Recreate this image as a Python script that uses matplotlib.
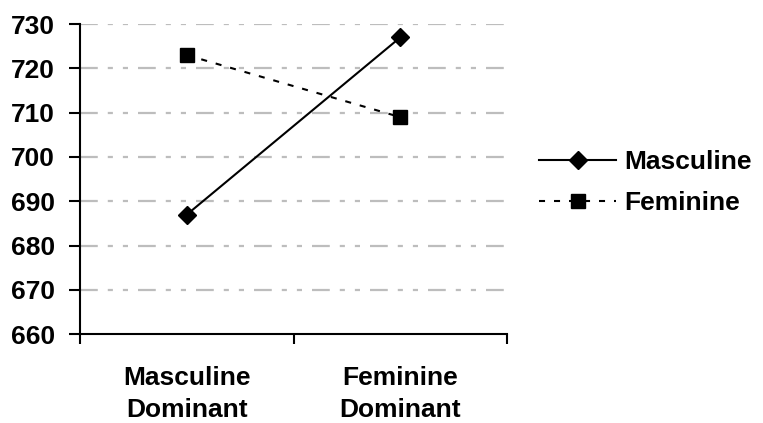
import matplotlib
matplotlib.use("Agg")
from matplotlib import pyplot as plt

plt.rcParams['font.family'] = ['Liberation Sans', 'DejaVu Sans']
plt.rcParams['font.weight'] = 'bold'

categories = ["Masculine\nDominant", "Feminine\nDominant"]
masculine = [687, 727]
feminine = [723, 709]
yticks = [660, 670, 680, 690, 700, 710, 720, 730]

fig = plt.figure(figsize=(7.63, 4.23), dpi=100)
ax = fig.add_axes([0.105, 0.21, 0.5595, 0.733])

x = list(range(len(categories)))
ax.plot(x, masculine, color='black', lw=1.5, marker='D', ms=9.5,
        label='Masculine', zorder=3)
ax.plot(x, feminine, color='black', lw=1.5, ls=(0, (2.9, 4.3)), marker='s',
        ms=9.5, mfc='black', mec='black', label='Feminine', zorder=3)

ax.set_xlim(-0.5, 1.5)
ax.set_ylim(660, 730)
ax.set_yticks(yticks)
ax.set_xticks(x)
ax.set_xticklabels(categories, fontsize=19, fontweight='bold', linespacing=1.4)
ax.set_xticks([-0.5, 0.5, 1.5], minor=True)
ax.tick_params(axis='x', which='major', length=0, pad=23)
ax.tick_params(axis='x', which='minor', length=7, width=1.5, direction='out')
ax.tick_params(axis='y', length=8, width=1.5, labelsize=19, pad=10)
for lab in ax.get_yticklabels():
    lab.set_fontweight('bold')

for v in yticks[1:]:
    ax.axhline(v, color='#bdbdbd', lw=1.6,
               dashes=(8, 4.5, 2.3, 4.5, 2.3, 4.5), zorder=1)

for s in ['top', 'right']:
    ax.spines[s].set_visible(False)
for s in ['left', 'bottom']:
    ax.spines[s].set_linewidth(1.5)

ax.legend(loc='center left', bbox_to_anchor=(1.051, 0.489), frameon=False,
          handlelength=2.9, labelspacing=0.65, handletextpad=0.3,
          borderaxespad=0, prop={'weight': 'bold', 'size': 19})

fig.savefig("out.png", dpi=100)
